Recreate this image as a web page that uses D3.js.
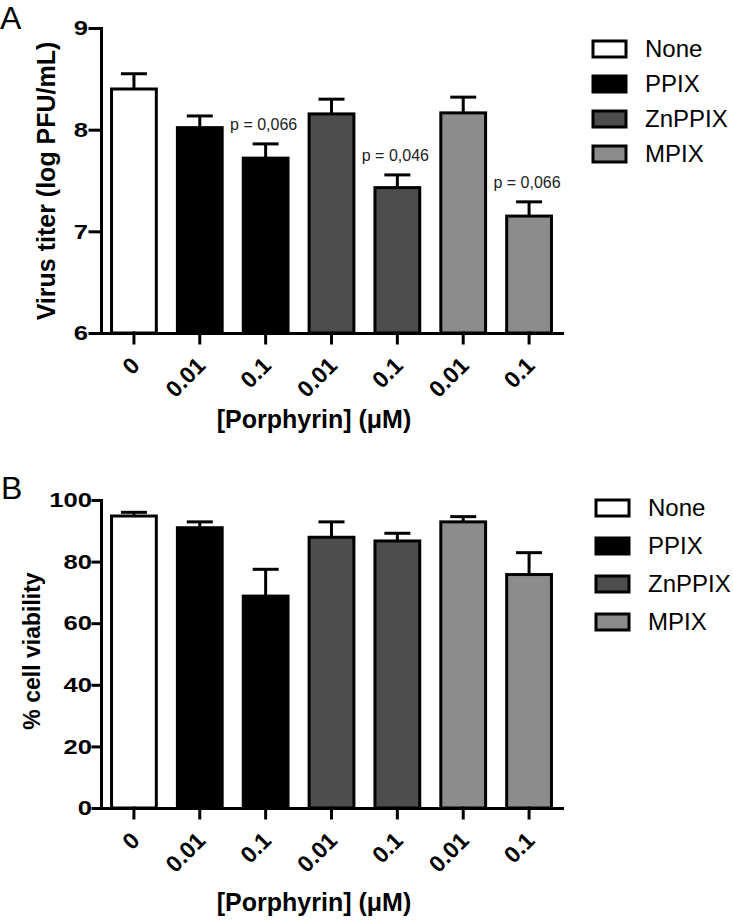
<!DOCTYPE html>
<html>
<head>
<meta charset="utf-8">
<script src="https://cdnjs.cloudflare.com/ajax/libs/d3/7.8.5/d3.min.js"></script>
<style>
body{margin:0;background:#fff;}
text{font-family:"Liberation Sans", Arial, sans-serif;}
</style>
</head>
<body>
<div id="chart-area"></div>
<script>
// categories (same for both panels)
var doses = ["0","0.01","0.1","0.01","0.1","0.01","0.1"];
var groups = ["None","PPIX","PPIX","ZnPPIX","ZnPPIX","MPIX","MPIX"];
var legendNames = ["None","PPIX","ZnPPIX","MPIX"];
var legendColors = ["#ffffff","#000000","#4d4d4d","#8c8c8c"];

// panel A - virus titer (log PFU/mL), mean and SEM
var titerMean = [8.40, 8.02, 7.72, 8.155, 7.43, 8.165, 7.15];
var titerSem = [0.15, 0.115, 0.14, 0.145, 0.125, 0.155, 0.14];
var titerTicks = [6, 7, 8, 9];
var titerP = ["", "", "p = 0,066", "", "p = 0,046", "", "p = 0,066"];

// panel B - cell viability (%), mean and SEM
var viabMean = [94.8, 91.0, 68.8, 87.9, 86.7, 92.9, 75.8];
var viabSem = [1.2, 1.9, 8.7, 5.0, 2.5, 1.7, 7.1];
var viabTicks = [0, 20, 40, 60, 80, 100];

var color = d3.scaleOrdinal()
	.domain(legendNames)
	.range(legendColors);

var svg = d3.select("#chart-area")
	.append("svg")
		.attr("width", 733)
		.attr("height", 920);

//one panel = bars + error bars + axes + legend
function drawPanel(p){
	var g = svg.append("g");

	var x = d3.scaleBand()
		.domain(d3.range(doses.length))
		.range([101, 562])
		.paddingInner(0.32)
		.paddingOuter(0.16);
	var y = d3.scaleLinear()
		.domain(p.domain)
		.range([p.bottom, p.top]);

	//bars
	g.selectAll("rect.bar")
		.data(p.mean)
		.enter().append("rect")
			.attr("class", "bar")
			.attr("x", (d,i)=>{return x(i);})
			.attr("y", d=>{return y(d);})
			.attr("width", x.bandwidth())
			.attr("height", d=>{return p.bottom - y(d);})
			.attr("fill", (d,i)=>{return color(groups[i]);})
			.attr("stroke", "#000")
			.attr("stroke-width", 3);

	//error bars (upper only)
	var err = g.selectAll("g.err")
		.data(p.mean)
		.enter().append("g")
			.attr("class", "err")
			.attr("stroke", "#000")
			.attr("stroke-width", 3);
	err.append("line")
		.attr("x1", (d,i)=>{return x(i) + x.bandwidth()/2;})
		.attr("x2", (d,i)=>{return x(i) + x.bandwidth()/2;})
		.attr("y1", d=>{return y(d);})
		.attr("y2", (d,i)=>{return y(d + p.sem[i]);});
	err.append("line")
		.attr("x1", (d,i)=>{return x(i) + x.bandwidth()/2 - 13;})
		.attr("x2", (d,i)=>{return x(i) + x.bandwidth()/2 + 13;})
		.attr("y1", (d,i)=>{return y(d + p.sem[i]);})
		.attr("y2", (d,i)=>{return y(d + p.sem[i]);});

	//p values
	if(p.pvals){
		g.selectAll("text.pval")
			.data(p.pvals)
			.enter().append("text")
				.attr("class", "pval")
				.attr("x", (d,i)=>{return x(i) + x.bandwidth()/2 - 2;})
				.attr("y", (d,i)=>{return y(p.mean[i] + p.sem[i]) - 14;})
				.attr("text-anchor", "middle")
				.attr("font-size", 16)
				.attr("fill", "#222")
				.text(d=>{return d;});
	}

	//axes
	var yAxisCall = d3.axisLeft(y)
		.tickValues(p.ticks)
		.tickFormat(d3.format("d"))
		.tickSize(p.tickSize)
		.tickSizeOuter(0)
		.tickPadding(p.tickPad);
	var yAxis = g.append("g")
		.attr("transform", "translate(101,0)")
		.call(yAxisCall);
	var xAxisCall = d3.axisBottom(x)
		.tickFormat(i=>{return doses[i];})
		.tickSize(10)
		.tickSizeOuter(0);
	var xAxis = g.append("g")
		.attr("transform", "translate(0," + p.bottom + ")")
		.call(xAxisCall);

	[yAxis, xAxis].forEach(a=>{
		a.selectAll("path, line")
			.attr("stroke", "#000")
			.attr("stroke-width", 3)
			.attr("stroke-linecap", "square");
		a.selectAll("text")
			.attr("fill", "#000")
			.attr("font-weight", "bold")
			.style("font-family", '"Liberation Sans", Arial, sans-serif');
	});
	//wide digits like the original export
	yAxis.selectAll("text")
		.attr("font-size", 21)
		.attr("x", 0)
		.attr("transform", "translate(" + (-p.tickSize - p.tickPad) + ",0) scale(1.22,1)");
	xAxis.selectAll("text")
		.attr("font-size", 23)
		.attr("x", 0)
		.attr("y", 0)
		.attr("dy", 0)
		.attr("transform", "translate(7,34) rotate(-45)")
		.attr("text-anchor", "end");

	//labels
	g.append("text")
		.attr("transform", "translate(" + p.yLabelX + "," + p.yLabelY + ") rotate(-90)")
		.attr("text-anchor", "middle")
		.attr("font-size", p.yLabelSize)
		.attr("font-weight", "bold")
		.text(p.yLabel);
	g.append("text")
		.attr("x", 314)
		.attr("y", p.xLabelY)
		.attr("text-anchor", "middle")
		.attr("font-size", 25)
		.attr("font-weight", "bold")
		.text("[Porphyrin] (\u03bcM)");
	g.append("text")
		.attr("x", p.letterX)
		.attr("y", p.letterY)
		.attr("font-size", 32)
		.text(p.letter);

	//legend
	var leg = g.selectAll("g.leg")
		.data(legendNames)
		.enter().append("g")
			.attr("class", "leg")
			.attr("transform", (d,i)=>{return "translate(" + p.legendX + "," + (p.legendTop + i*p.legendStep) + ")";});
	leg.append("rect")
		.attr("x", 0)
		.attr("y", -8)
		.attr("width", 33)
		.attr("height", 16)
		.attr("fill", d=>{return color(d);})
		.attr("stroke", "#000")
		.attr("stroke-width", 3);
	leg.append("text")
		.attr("x", 52)
		.attr("y", 8)
		.attr("font-size", 24)
		.text(d=>{return d;});
}

drawPanel({
	top:28, bottom:333, domain:[6,9], ticks:titerTicks, tickSize:11, tickPad:2,
	mean:titerMean, sem:titerSem, pvals:titerP,
	yLabel:"Virus titer (log PFU/mL)", yLabelX:55, yLabelY:181, yLabelSize:25,
	xLabelY:428, letter:"A", letterX:0, letterY:29,
	legendX:593, legendTop:49, legendStep:35
});
drawPanel({
	top:500, bottom:808, domain:[0,100], ticks:viabTicks, tickSize:8, tickPad:1,
	mean:viabMean, sem:viabSem, pvals:null,
	yLabel:"% cell viability", yLabelX:40, yLabelY:651, yLabelSize:23,
	xLabelY:911, letter:"B", letterX:1, letterY:499,
	legendX:596, legendTop:508, legendStep:38
});
</script>
</body>
</html>
